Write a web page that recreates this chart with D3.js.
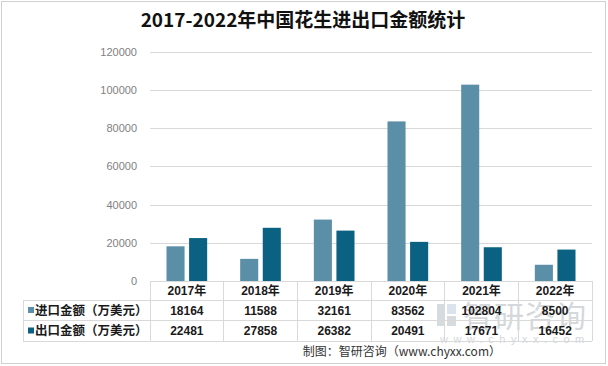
<!DOCTYPE html>
<html><head><meta charset="utf-8">
<script src="https://cdn.jsdelivr.net/npm/d3@7/dist/d3.min.js"></script>
<style>body{margin:0;background:#fff;}svg{display:block;}</style>
</head><body>
<script>
const title = "2017-2022年中国花生进出口金额统计";
const categories = ["2017年","2018年","2019年","2020年","2021年","2022年"];
const seriesNames = ["进口金额（万美元）","出口金额（万美元）"];
const importValues = [18164, 11588, 32161, 83562, 102804, 8500];
const exportValues = [22481, 27858, 26382, 20491, 17671, 16452];
const yTicks = [0, 20000, 40000, 60000, 80000, 100000, 120000];
const colors = ["#5b8fa8", "#0b6182"];
const source = "制图：智研咨询（www.chyxx.com）";

(function(){
const W = 608, H = 366;
const svg = d3.select("body").append("svg").attr("width", W).attr("height", H);
svg.append("rect").attr("x",1.5).attr("y",1.5).attr("width",W-4).attr("height",H-4)
  .attr("fill","#fff").attr("stroke","#d0d0d0");

const pL = 150, pR = 592, pT = 51.8, pB = 281;
const x = d3.scaleBand().domain(categories).range([pL, pR]);
const x1 = d3.scaleBand().domain(seriesNames).range([16.5, x.bandwidth()-16.5]).paddingInner(0.2);
const y = d3.scaleLinear().domain([0, 120000]).range([pB, pT]);

// watermark
const wm = svg.append("g").attr("opacity", 0.7);
wm.append("rect").attr("x",437).attr("y",304).attr("width",8).attr("height",22).attr("fill","#c5ccd4");
wm.append("rect").attr("x",447).attr("y",304).attr("width",9).attr("height",10).attr("fill","#cdd9e6");
wm.append("rect").attr("x",447).attr("y",316).attr("width",9).attr("height",10).attr("fill","#c5ccd4");
wm.append("text").attr("x",463).attr("y",327).attr("font-family","Noto Sans CJK SC")
  .attr("font-size",30).attr("fill","#c3c8cd").attr("letter-spacing","1").text("智研咨询");
wm.append("text").attr("x",440).attr("y",343).attr("font-family","Liberation Sans")
  .attr("font-size",11).attr("fill","#c3c8cd").attr("letter-spacing","5.5").text("www.chyxx.com");

// gridlines
svg.append("g").selectAll("line").data(yTicks.filter(d=>d>0)).join("line")
  .attr("x1",pL).attr("x2",pR).attr("y1",d=>Math.round(y(d))+0.5).attr("y2",d=>Math.round(y(d))+0.5)
  .attr("stroke","#d9d9d9");

// y axis
const yAxis = d3.axisLeft(y).tickValues(yTicks).tickSize(0).tickPadding(13).tickFormat(d3.format("d"));
const ya = svg.append("g").attr("transform",`translate(${pL},0)`).call(yAxis);
ya.select(".domain").remove();
ya.selectAll("text").attr("font-family","Liberation Sans").attr("font-size",11).attr("fill","#7f7f7f");

// bars
const data = categories.map((c,i)=>({c, vals:[importValues[i], exportValues[i]]}));
const g = svg.append("g").selectAll("g").data(data).join("g").attr("transform",d=>`translate(${x(d.c)},0)`);
g.selectAll("rect").data(d=>d.vals.map((v,j)=>({s:seriesNames[j], v, j}))).join("rect")
  .attr("x",d=>x1(d.s)).attr("width",x1.bandwidth())
  .attr("y",d=>y(d.v)).attr("height",d=>pB-y(d.v)).attr("fill",d=>colors[d.j]);

// data table
const rowY = [281, 300, 320, 341];
const tbl = svg.append("g").attr("stroke","#d9d9d9").attr("shape-rendering","crispEdges");
tbl.append("line").attr("x1",pL).attr("x2",pR).attr("y1",rowY[0]).attr("y2",rowY[0]);
[1,2,3].forEach(k=>tbl.append("line").attr("x1",23).attr("x2",pR).attr("y1",rowY[k]).attr("y2",rowY[k]));
tbl.append("line").attr("x1",23).attr("x2",23).attr("y1",rowY[1]).attr("y2",rowY[3]);
const vx = categories.map(c=>x(c)).concat([pR]);
tbl.selectAll(".v").data(vx).join("line").attr("x1",d=>d).attr("x2",d=>d).attr("y1",rowY[0]).attr("y2",rowY[3]);

const txt = svg.append("g").attr("font-family","Liberation Sans, Noto Sans CJK SC").attr("text-anchor","middle").attr("fill","#1a1a1a");
txt.selectAll(".yr").data(categories).join("text")
  .attr("x",d=>x(d)+x.bandwidth()/2).attr("y",(rowY[0]+rowY[1])/2+4.5)
  .attr("font-size",12).attr("font-weight","bold").text(d=>d);
[importValues, exportValues].forEach((arr,k)=>{
  txt.append("g").selectAll("text").data(arr).join("text")
    .attr("x",(d,i)=>x(categories[i])+x.bandwidth()/2).attr("y",(rowY[k+1]+rowY[k+2])/2+4.5)
    .attr("font-size",12).attr("font-weight","bold").text(d=>d);
  svg.append("rect").attr("x",28).attr("y",(rowY[k+1]+rowY[k+2])/2-3).attr("width",6).attr("height",6).attr("fill",colors[k]);
  svg.append("text").attr("x",35).attr("y",(rowY[k+1]+rowY[k+2])/2+4.5)
    .attr("font-family","Noto Sans CJK SC").attr("font-weight","bold").attr("font-size",12.5).attr("fill","#1a1a1a")
    .text(seriesNames[k]);
});

// title
svg.append("text").attr("x",303).attr("y",27).attr("text-anchor","middle")
  .attr("font-family","Noto Sans CJK SC").attr("font-weight","bold").attr("font-size",19).attr("fill","#111").text(title);

// source
svg.append("text").attr("x",501).attr("y",356).attr("text-anchor","end")
  .attr("font-family","Noto Sans CJK SC").attr("font-size",12).attr("fill","#333").text(source);
})();
</script>
</body></html>
